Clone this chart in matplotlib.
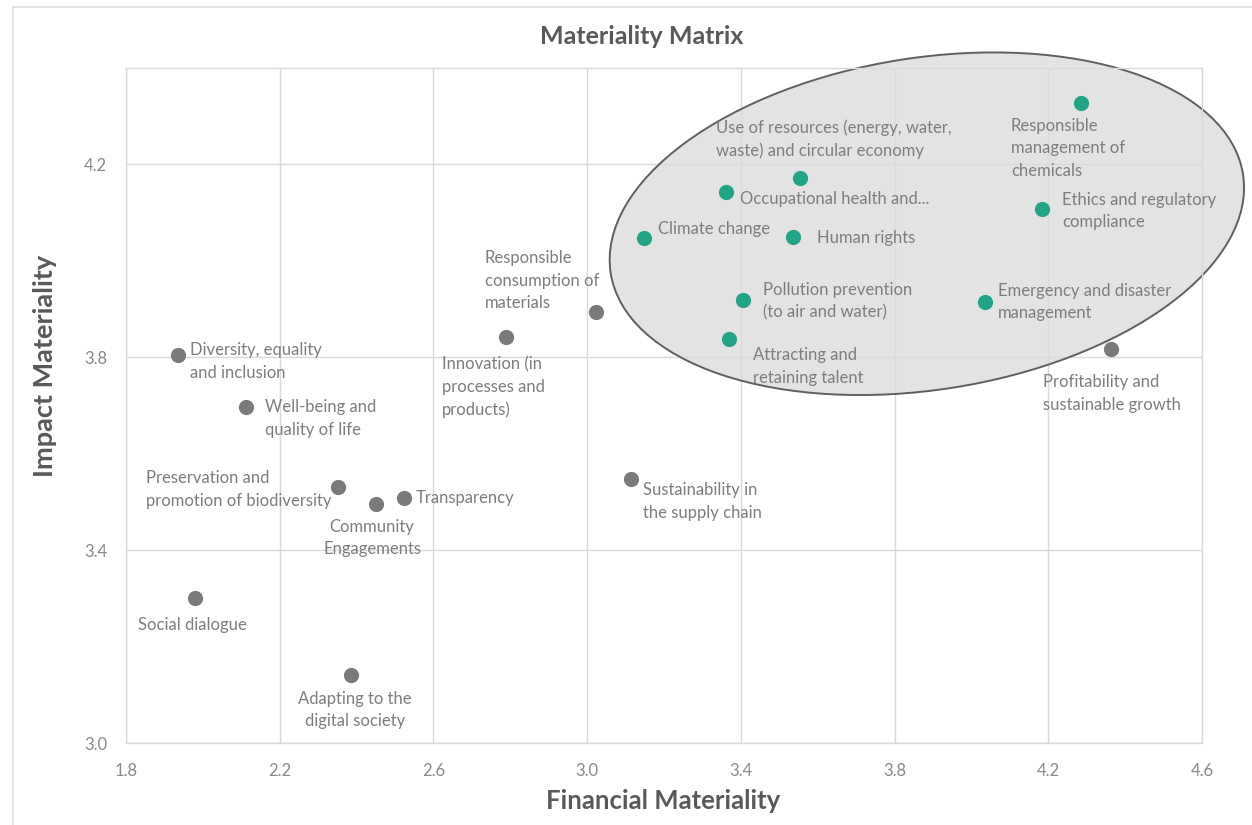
import matplotlib
matplotlib.use("Agg")
import matplotlib.pyplot as plt
from matplotlib.patches import Ellipse, Rectangle
from matplotlib.transforms import ScaledTranslation

plt.rcParams["font.family"] = ["Lato", "DejaVu Sans"]

# Financial (x) and impact (y) materiality scores
topics_other = [
    "Diversity, equality\nand inclusion",
    "Well-being and\nquality of life",
    "Preservation and\npromotion of biodiversity",
    "Community\nEngagements",
    "Transparency",
    "Social dialogue",
    "Adapting to the\ndigital society",
    "Innovation (in\nprocesses and\nproducts)",
    "Responsible\nconsumption of\nmaterials",
    "Sustainability in\nthe supply chain",
    "Profitability and\nsustainable growth",
]
fin_other = [1.935, 2.112, 2.352, 2.451, 2.523, 1.980, 2.385, 2.789, 3.023, 3.114, 4.363]
imp_other = [3.805, 3.697, 3.531, 3.496, 3.508, 3.301, 3.141, 3.842, 3.894, 3.548, 3.817]

topics_material = [
    "Responsible\nmanagement of\nchemicals",
    "Use of resources (energy, water,\nwaste) and circular economy",
    "Occupational health and...",
    "Climate change",
    "Human rights",
    "Ethics and regulatory\ncompliance",
    "Pollution prevention\n(to air and water)",
    "Emergency and disaster\nmanagement",
    "Attracting and\nretaining talent",
]
fin_material = [4.285, 3.554, 3.361, 3.148, 3.536, 4.183, 3.405, 4.035, 3.369]
imp_material = [4.327, 4.172, 4.143, 4.047, 4.049, 4.107, 3.919, 3.915, 3.838]

x_ticks = [1.8, 2.2, 2.6, 3.0, 3.4, 3.8, 4.2, 4.6]
y_ticks = [3.0, 3.4, 3.8, 4.2]

# label placement: (dx, dy) in pixels from the marker, horizontal alignment
label_pos_other = [
    (12, -6.5, "left"), (19, -11.5, "left"), (-7, -2.5, "right"),
    (-4, -34, "center"), (12, 0, "left"), (-3, -27, "center"),
    (4, -35, "center"), (-64, -50, "left"), (-111, 31, "left"),
    (12, -22.5, "left"), (-68, -44.5, "left"),
]
label_pos_material = [
    (-70, -45, "left"), (-84, 38.5, "left"), (14, -7, "left"),
    (14, 9, "left"), (24, -1, "left"), (20, -1.5, "left"),
    (20, -1.5, "left"), (13, 0, "left"), (24, -27.5, "left"),
]

GRAY_DOT = "#7a7a7a"
GREEN_DOT = "#22a487"
TEXT = "#7d7d7d"
AXTEXT = "#595959"
GRID = "#d9d9d9"

W, H, DPI = 1252, 825, 100
fig = plt.figure(figsize=(W / DPI, H / DPI), dpi=DPI)
ax = fig.add_axes([126 / W, 1 - 743 / H, (1202 - 126) / W, (743 - 68) / H])

# chart area frame
fig.patches.append(Rectangle((13 / W, -0.02), 1.05, 1.02 - 7 / H,
                             transform=fig.transFigure, fill=False,
                             edgecolor="#e0e0e0", lw=1.2, zorder=0))

ax.set_xlim(1.8, 4.6)
ax.set_ylim(3.0, 4.4)
ax.set_xticks(x_ticks)
ax.set_yticks(y_ticks)
ax.set_xticklabels([f"{v:.1f}" for v in x_ticks])
ax.set_yticklabels([f"{v:.1f}" for v in y_ticks])
ax.grid(True, color=GRID, lw=1.0, zorder=0)
ax.set_axisbelow(True)
for s in ax.spines.values():
    s.set_color(GRID)
    s.set_linewidth(1.0)
ax.tick_params(length=0, colors="#8a8a8a", labelsize=12)
ax.tick_params(axis="x", pad=14.5)
ax.tick_params(axis="y", pad=13.5)

# highlight of the most material topics (size in pixels, centred in data space)
ell_kw = dict(width=2 * 320 / DPI, height=2 * 166 / DPI, angle=8.9,
              transform=fig.dpi_scale_trans + ScaledTranslation(3.884, 4.077, ax.transData),
              clip_on=False)
ax.add_patch(Ellipse((0, 0), facecolor="#dcdcdc", alpha=0.78, edgecolor="none",
                     zorder=1, **ell_kw))
ax.add_patch(Ellipse((0, 0), facecolor="none", edgecolor="#5f5f5f", lw=1.4,
                     zorder=2, **ell_kw))

ax.scatter(fin_other, imp_other, s=120, color=GRAY_DOT, zorder=4, linewidths=0)
ax.scatter(fin_material, imp_material, s=120, color=GREEN_DOT, zorder=4, linewidths=0)

def put_labels(names, xs, ys, pos):
    for name, x, y, (dx, dy, ha) in zip(names, xs, ys, pos):
        ax.annotate(name, (x, y), xytext=(dx, dy), textcoords="offset pixels",
                    ha=ha, va="center", multialignment="left" if ha != "center" else "center",
                    fontsize=12, color=TEXT, linespacing=1.5, zorder=5,
                    annotation_clip=False)

put_labels(topics_other, fin_other, imp_other, label_pos_other)
put_labels(topics_material, fin_material, imp_material, label_pos_material)

fig.text(642 / W, 1 - 37 / H, "Materiality Matrix", ha="center", va="center",
         fontsize=18, fontweight="bold", color=AXTEXT)
fig.text(663 / W, 1 - 801 / H, "Financial Materiality", ha="center", va="center",
         fontsize=18.5, fontweight="bold", color=AXTEXT)
fig.text(45 / W, 1 - 366 / H, "Impact Materiality", ha="center", va="center",
         rotation=90, fontsize=19.5, fontweight="bold", color=AXTEXT)

fig.savefig("out.png", dpi=DPI)
